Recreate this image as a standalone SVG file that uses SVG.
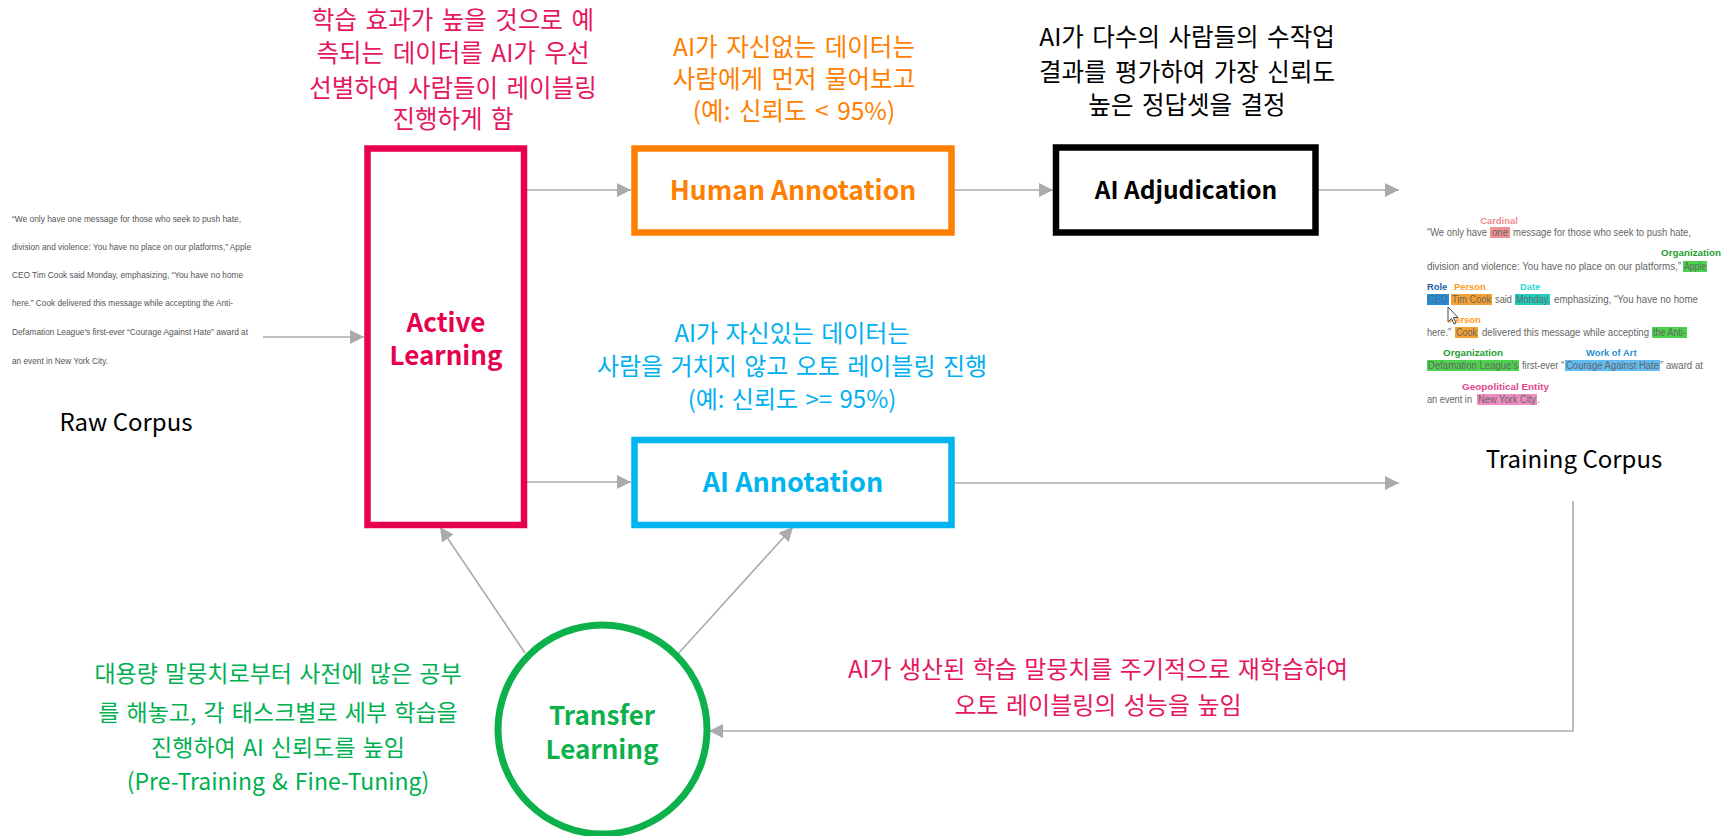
<svg xmlns="http://www.w3.org/2000/svg" width="1727" height="836" viewBox="0 0 1727 836">
<defs>
<marker id="arr" markerWidth="14" markerHeight="14" refX="14" refY="7" orient="auto" markerUnits="userSpaceOnUse">
<path d="M0,0 L14,7 L0,14 z" fill="#ABABAB"/>
</marker>
<style>
.kr{font-family:"Noto Sans CJK KR","Noto Sans",sans-serif;text-anchor:middle}
.k1{font-size:24.5px;word-spacing:3px}
.k2{font-size:24px;word-spacing:2px}
.k3{font-size:23px;word-spacing:2px}
.lbl{font-family:"Noto Sans CJK KR","Noto Sans",sans-serif;font-size:26px;font-weight:bold;text-anchor:middle}
.cap{font-family:"Noto Sans CJK KR","Noto Sans",sans-serif;font-size:24px;fill:#000;text-anchor:middle}
.raw{font-family:"Liberation Sans",Arial,sans-serif;font-size:9px;fill:#555}
.tc{font-family:"Liberation Sans",Arial,sans-serif;font-size:10px;fill:#666}
.tag{font-family:"Liberation Sans",Arial,sans-serif;font-size:9.4px;font-weight:bold}
.con{fill:none;stroke:#ABABAB;stroke-width:1.6;marker-end:url(#arr)}
.box{fill:#fff;stroke-width:6.5}
</style>
</defs>
<rect width="1727" height="836" fill="#fff"/>

<g id="raw-corpus">
<text class="raw" x="12" y="222" textLength="229" lengthAdjust="spacingAndGlyphs">“We only have one message for those who seek to push hate,</text>
<text class="raw" x="12" y="250" textLength="239" lengthAdjust="spacingAndGlyphs">division and violence: You have no place on our platforms,” Apple</text>
<text class="raw" x="12" y="278" textLength="231" lengthAdjust="spacingAndGlyphs">CEO Tim Cook said Monday, emphasizing, “You have no home</text>
<text class="raw" x="12" y="306" textLength="221" lengthAdjust="spacingAndGlyphs">here.” Cook delivered this message while accepting the Anti-</text>
<text class="raw" x="12" y="335" textLength="236" lengthAdjust="spacingAndGlyphs">Defamation League's first-ever “Courage Against Hate” award at</text>
<text class="raw" x="12" y="364" textLength="96" lengthAdjust="spacingAndGlyphs">an event in New York City.</text>
<text class="cap" x="126" y="431">Raw Corpus</text>
</g>

<g id="training-corpus">
<rect x="1490" y="227" width="20" height="11" fill="#EE9090"/>
<rect x="1683" y="261" width="24" height="11" fill="#4CD24C"/>
<rect x="1427" y="294" width="22" height="11" fill="#1E90E0"/>
<rect x="1451" y="294" width="41" height="11" fill="#F5A030"/>
<rect x="1515" y="294" width="35" height="11" fill="#1ECFC0"/>
<rect x="1455" y="327" width="23" height="11" fill="#F5A030"/>
<rect x="1652" y="327" width="35" height="11" fill="#4CD24C"/>
<rect x="1427" y="360" width="92" height="11" fill="#4CD24C"/>
<rect x="1565" y="360" width="95" height="11" fill="#62BBF2"/>
<rect x="1477" y="394" width="60" height="11" fill="#F08CC0"/>
<g class="tc">
<text x="1427" y="236" textLength="60" lengthAdjust="spacingAndGlyphs">“We only have</text>
<text x="1492" y="236" textLength="16" lengthAdjust="spacingAndGlyphs">one</text>
<text x="1513" y="236" textLength="178" lengthAdjust="spacingAndGlyphs">message for those who seek to push hate,</text>
<text x="1427" y="270" textLength="254" lengthAdjust="spacingAndGlyphs">division and violence: You have no place on our platforms,”</text>
<text x="1684" y="270" textLength="22" lengthAdjust="spacingAndGlyphs">Apple</text>
<text x="1428" y="303" textLength="20" lengthAdjust="spacingAndGlyphs">CEO</text>
<text x="1452" y="303" textLength="39" lengthAdjust="spacingAndGlyphs">Tim Cook</text>
<text x="1495" y="303" textLength="17" lengthAdjust="spacingAndGlyphs">said</text>
<text x="1516" y="303" textLength="34" lengthAdjust="spacingAndGlyphs">Monday,</text>
<text x="1554" y="303" textLength="144" lengthAdjust="spacingAndGlyphs">emphasizing, “You have no home</text>
<text x="1427" y="336" textLength="24" lengthAdjust="spacingAndGlyphs">here.”</text>
<text x="1456" y="336" textLength="21" lengthAdjust="spacingAndGlyphs">Cook</text>
<text x="1482" y="336" textLength="167" lengthAdjust="spacingAndGlyphs">delivered this message while accepting</text>
<text x="1653" y="336" textLength="33" lengthAdjust="spacingAndGlyphs">the Anti-</text>
<text x="1428" y="369" textLength="90" lengthAdjust="spacingAndGlyphs">Defamation League's</text>
<text x="1522" y="369" textLength="42" lengthAdjust="spacingAndGlyphs">first-ever “</text>
<text x="1566" y="369" textLength="93" lengthAdjust="spacingAndGlyphs">Courage Against Hate</text>
<text x="1660" y="369" textLength="43" lengthAdjust="spacingAndGlyphs">” award at</text>
<text x="1427" y="403" textLength="45" lengthAdjust="spacingAndGlyphs">an event in</text>
<text x="1478" y="403" textLength="58" lengthAdjust="spacingAndGlyphs">New York City</text>
<text x="1537" y="403">.</text>
</g>
<text class="tag" x="1499" y="224" fill="#F28A8A" text-anchor="middle">Cardinal</text>
<text class="tag" x="1661" y="256" textLength="60" lengthAdjust="spacingAndGlyphs" fill="#1E9E2E">Organization</text>
<text class="tag" x="1427" y="290" fill="#1F5F9F">Role</text>
<text class="tag" x="1454" y="290" fill="#FF9A1A">Person</text>
<text class="tag" x="1520" y="290" fill="#2ED6D6">Date</text>
<text class="tag" x="1449" y="323" fill="#FF9A1A">Person</text>
<text class="tag" x="1443" y="356" textLength="60" lengthAdjust="spacingAndGlyphs" fill="#1E9E2E">Organization</text>
<text class="tag" x="1586" y="356" fill="#2A8FD0">Work of Art</text>
<text class="tag" x="1462" y="390" textLength="87" lengthAdjust="spacingAndGlyphs" fill="#E4458F">Geopolitical Entity</text>
<path d="M1448,307 L1448,322 L1451.5,318.5 L1454,324 L1456,323 L1453.5,317.5 L1458,317.5 z" fill="#fff" stroke="#333" stroke-width="0.9"/>
<text class="cap" x="1574" y="468">Training Corpus</text>
</g>

<g id="connectors">
<line class="con" x1="263" y1="337" x2="364" y2="337"/>
<line class="con" x1="524" y1="190" x2="631" y2="190"/>
<line class="con" x1="954" y1="190" x2="1053" y2="190"/>
<line class="con" x1="1318" y1="190" x2="1399" y2="190"/>
<line class="con" x1="524" y1="482" x2="631" y2="482"/>
<line class="con" x1="954" y1="483" x2="1399" y2="483"/>
<line class="con" x1="525" y1="653" x2="440" y2="527"/>
<line class="con" x1="677" y1="655" x2="793" y2="527"/>
<polyline class="con" points="1573,501 1573,731 709,731"/>
</g>

<g id="active-learning">
<rect class="box" x="367.5" y="148.5" width="156.5" height="376.5" stroke="#E6004E"/>
<text class="lbl" fill="#E6004E"><tspan x="446" y="332">Active</tspan><tspan x="446" y="365">Learning</tspan></text>
<text class="kr k1" fill="#E6175E"><tspan x="453" y="29">학습 효과가 높을 것으로 예</tspan><tspan x="453" y="62">측되는 데이터를 AI가 우선</tspan><tspan x="453" y="97">선별하여 사람들이 레이블링</tspan><tspan x="453" y="128">진행하게 함</tspan></text>
</g>

<g id="human-annotation">
<rect class="box" x="634.5" y="148.5" width="317" height="84" stroke="#FF7F00"/>
<text class="lbl" x="793" y="200" fill="#FF7F00" style="font-size:26.5px">Human Annotation</text>
<text class="kr k1" fill="#FF8000"><tspan x="794" y="56">AI가 자신없는 데이터는</tspan><tspan x="794" y="88">사람에게 먼저 물어보고</tspan><tspan x="794" y="120">(예: 신뢰도 &lt; 95%)</tspan></text>
</g>

<g id="ai-adjudication">
<rect class="box" x="1056" y="147.5" width="259.5" height="85" stroke="#000"/>
<text class="lbl" x="1186" y="199" fill="#000" style="font-size:24.5px">AI Adjudication</text>
<text class="kr k1" fill="#000"><tspan x="1187" y="46">AI가 다수의 사람들의 수작업</tspan><tspan x="1187" y="81">결과를 평가하여 가장 신뢰도</tspan><tspan x="1187" y="114">높은 정답셋을 결정</tspan></text>
</g>

<g id="ai-annotation">
<rect class="box" x="634.5" y="440" width="317" height="85" stroke="#00B4F0"/>
<text class="lbl" x="793" y="492" fill="#00B4F0" style="font-size:27px">AI Annotation</text>
<text class="kr k2" fill="#00B0F0"><tspan x="792" y="342">AI가 자신있는 데이터는</tspan><tspan x="792" y="375">사람을 거치지 않고 오토 레이블링 진행</tspan><tspan x="792" y="408">(예: 신뢰도 &gt;= 95%)</tspan></text>
</g>

<g id="transfer-learning">
<circle cx="602.5" cy="729.5" r="104.5" fill="#fff" stroke="#0DB14B" stroke-width="7"/>
<text class="lbl" fill="#0DB14B"><tspan x="602" y="725">Transfer</tspan><tspan x="602" y="759">Learning</tspan></text>
<text class="kr k3" fill="#00B050"><tspan x="278" y="682">대용량 말뭉치로부터 사전에 많은 공부</tspan><tspan x="278" y="721">를 해놓고, 각 태스크별로 세부 학습을</tspan><tspan x="278" y="756">진행하여 AI 신뢰도를 높임</tspan><tspan x="278" y="790">(Pre-Training &amp; Fine-Tuning)</tspan></text>
</g>

<g id="feedback-note">
<text class="kr k2" fill="#E6175E"><tspan x="1098" y="678">AI가 생산된 학습 말뭉치를 주기적으로 재학습하여</tspan><tspan x="1098" y="714">오토 레이블링의 성능을 높임</tspan></text>
</g>
</svg>
